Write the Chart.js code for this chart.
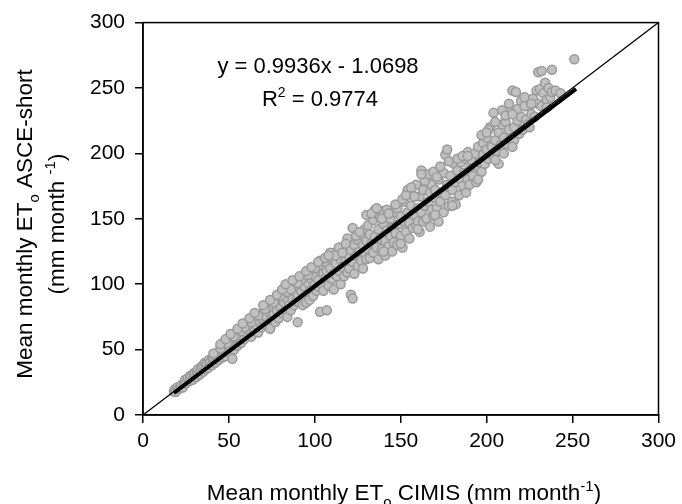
<!DOCTYPE html>
<html>
<head>
<meta charset="utf-8">
<script src="https://cdn.jsdelivr.net/npm/chart.js@4.4.1/dist/chart.umd.min.js"></script>
<style>
  html, body { margin: 0; padding: 0; background: #fff; }
  #wrap { width: 682px; height: 504px; position: relative; }
</style>
</head>
<body>
<div id="wrap"><canvas id="myChartEto"></canvas></div>
<script>
// CIMIS ET0 (x) vs ASCE-short ET0 (y), mm/month
const cimis = [
  18,18.5,19,20,21,22,23,24,24.5,25,26,27,27.5,28,29,29.5,30,31,31.5,32,33,33.5,34,35,35,
  36,36.5,37,38,38.5,39,40,40.5,41,42,42,43,44,44.5,45,46,46,47,48,48,49,50,50,51,52,52,53,53,54,55,55,56,
  57,57,58,58,59,60,60,61,62,62,63,64,64,65,66,66,67,68,68,69,70,70,71,72,72,73,74,74,75,75,76,77,77,78,79,79,80,
  81,81,82,83,83,84,84,85,86,86,87,88,88,89,90,90,90,91,92,92,93,94,94,95,95,96,96,97,97,98,98,99,99,100,100,101,101,102,102,103,103,104,104,105,105,
  106,106,107,107,108,108,109,110,110,111,111,112,113,113,114,115,115,116,117,117,118,119,119,120,120,121,121,122,122,122,123,123,124,125,125,126,127,127,128,128,129,129,130,130,130,
  131,131,132,132,133,134,134,135,135,136,137,137,138,138,139,140,140,141,141,142,142,143,144,144,145,145,146,146,147,148,148,149,150,150,151,152,152,153,154,154,155,155,156,157,157,158,159,159,160,160,
  161,161,162,162,163,163,164,165,165,166,167,167,168,168,169,170,170,171,172,172,173,174,175,175,176,176,177,177,178,179,180,180,181,182,182,183,184,185,185,186,187,188,188,189,189,190,190,
  191,192,193,194,195,195,196,197,198,198,199,200,200,201,202,203,204,204,205,206,207,207,208,209,210,210,211,212,213,214,214,215,216,216,217,218,219,220,220,221,222,223,224,225,
  226,227,228,229,230,230,231,232,232,233,234,235,236,237,238,238,240,243,251,
  41,45,49,53,57,59,63,67,71,76,80,84,88,92,96,100,86,90,
  103,109,114,118,124,126,112,116,133,136,139,143,147,151,153,156,158,
  164,166,169,171,173,178,183,186,197,201,205,209,213,218,222,226,
  140,150,160,170,180,195,205,215,225,235,
  45,48,51,55,58,62,65,70,74,78,81,83,87,91,95,98,102,106,108,162,189,200,211,215
]
const asceShort = [
  18,19.5,17.5,21,20,22.5,21,25,27,24,28,26,30,29,27,32,31,29,33,35,31,34,37,33,38,
  40,35,39,36,42,40,38,44,42,40,46,44,42,48,46,44,50,47,45,52,50,48,54,52,43,56,50,55,58,53,60,57,
  55,62,60,66,58,63,68,61,65,70,60,67,72,64,69,74,63,71,76,67,73,79,69,75,82,70,78,66,73,83,77,71,85,80,74,87,82,
  78,90,86,80,93,75,88,84,92,80,89,95,84,87,71,97,92,86,95,100,84,98,90,103,86,101,93,108,88,104,96,110,91,100,106,95,113,103,98,79,110,100,115,95,108,
  104,117,80,110,99,120,112,104,123,108,96,116,106,125,110,100,119,113,106,128,118,109,135,121,112,92,126,89,117,143,108,130,122,114,134,125,118,138,112,130,124,142,119,153,133,
  127,145,120,138,131,149,124,136,157,128,142,119,135,151,127,146,156,133,122,141,157,129,150,137,125,143,155,132,139,158,130,146,137,152,128,148,163,140,155,172,135,147,160,143,168,153,176,145,158,148,
  167,140,187,155,148,172,160,150,180,163,144,170,157,176,152,166,172,158,180,148,163,170,185,155,199,168,203,176,160,183,172,163,192,161,178,187,168,180,193,175,185,170,196,201,180,188,176,
  195,183,200,178,190,205,193,186,208,199,192,203,212,196,220,205,198,231,210,202,216,192,206,222,212,200,224,207,218,232,211,248,220,210,247,225,215,240,228,218,243,226,222,236,
  230,242,228,248,262,238,249,263,236,246,254,241,250,243,264,247,248,246,272,
  47,51,55,60,64,67,71,76,81,86,91,94,99,103,107,112,96,101,
  118,124,128,131,137,140,122,124,154,158,150,154,161,165,168,174,167,
  179,184,186,182,190,194,196,198,214,218,224,233,238,234,236,238,
  125,131,142,153,160,180,195,205,220,235,
  54,58,62,66,70,74,78,84,88,92,96,100,103,106,110,113,117,120,122,184,198,216,229,230
]
const axisTicks = [0, 50, 100, 150, 200, 250, 300]
const fitSlope = 0.9936
const fitIntercept = -1.0698
const fitR2 = 0.9774
const fitRange = [18, 252]

const xTitle = [{t: 'Mean monthly ET'}, {t: 'o', sub: true}, {t: ' CIMIS (mm month'}, {t: '-1', sup: true}, {t: ')'}]
const yTitle1 = [{t: 'Mean monthly ET'}, {t: 'o', sub: true}, {t: ' ASCE-short'}]
const yTitle2 = [{t: '(mm month '}, {t: '-1', sup: true}, {t: ')'}]

const FONT = 'Arial, "Liberation Sans", sans-serif'

const points = cimis.map((x, i) => ({x, y: asceShort[i]}))
const fitLine = fitRange.map(x => ({x, y: fitSlope * x + fitIntercept}))
const oneToOne = [{x: axisTicks[0], y: axisTicks[0]}, {x: axisTicks[axisTicks.length - 1], y: axisTicks[axisTicks.length - 1]}]

// draws text with sub/superscript pieces, centred on x
const drawRich = (ctx, parts, x, y, size) => {
    const widths = parts.map(p => {
        ctx.font = `${(p.sub || p.sup) ? Math.round(size * 0.65) : size}px ${FONT}`
        return ctx.measureText(p.t).width
    })
    let cx = x - widths.reduce((a, b) => a + b, 0) / 2
    ctx.textAlign = 'left'
    ctx.textBaseline = 'alphabetic'
    parts.forEach((p, i) => {
        const small = p.sub || p.sup
        ctx.font = `${small ? Math.round(size * 0.65) : size}px ${FONT}`
        const dy = p.sub ? size * 0.3 : p.sup ? -size * 0.42 : 0
        ctx.fillText(p.t, cx, y + dy)
        cx += widths[i]
    })
}

const extras = {
    id: 'extras',
    afterDatasetsDraw(chart) {
        const {ctx, chartArea: a} = chart
        ctx.save()
        ctx.strokeStyle = '#000'
        ctx.lineWidth = 1.5
        ctx.strokeRect(a.left, a.top, a.right - a.left, a.bottom - a.top)
        ctx.fillStyle = '#000'
        const sign = fitIntercept < 0 ? '- ' : '+ '
        drawRich(ctx, [{t: `y = ${fitSlope}x ${sign}${Math.abs(fitIntercept)}`}], 318, 73, 22)
        drawRich(ctx, [{t: 'R'}, {t: '2', sup: true}, {t: ` = ${fitR2}`}], 320, 106, 22)
        drawRich(ctx, xTitle, 404, 500, 22.5)
        ctx.translate(32, 224)
        ctx.rotate(-Math.PI / 2)
        drawRich(ctx, yTitle1, 0, 0, 22.5)
        drawRich(ctx, yTitle2, 0, 32, 22.5)
        ctx.restore()
    }
}

const data = {
    datasets: [
        {
            type: 'line',
            data: fitLine,
            borderColor: '#000',
            borderWidth: 4,
            pointRadius: 0,
            order: 0
        },
        {
            type: 'line',
            data: oneToOne,
            borderColor: '#000',
            borderWidth: 1.3,
            pointRadius: 0,
            order: 1
        },
        {
            type: 'scatter',
            data: points,
            backgroundColor: '#c0c0c0',
            borderColor: '#999999',
            borderWidth: 1.5,
            pointRadius: 4.5,
            order: 2
        }
    ]
}

const tickCommon = {
    color: '#000',
    font: {family: FONT, size: 21}
}

const options = {
    responsive: true,
    maintainAspectRatio: false,
    animation: false,
    layout: {padding: {top: 22, right: 21, left: 0, bottom: 0}},
    plugins: {legend: {display: false}, tooltip: {enabled: false}},
    scales: {
        x: {
            type: 'linear',
            min: 0, max: 300,
            afterBuildTicks: s => { s.ticks = axisTicks.map(v => ({value: v})) },
            afterFit: s => { s.height = 89 },
            grid: {display: true, drawOnChartArea: false, drawTicks: true, tickLength: 8, color: '#000', lineWidth: 1.5},
            border: {display: true, color: '#000', width: 1.5},
            ticks: {...tickCommon, padding: 6, maxRotation: 0}
        },
        y: {
            type: 'linear',
            min: 0, max: 300,
            afterBuildTicks: s => { s.ticks = axisTicks.map(v => ({value: v})) },
            afterFit: s => { s.width = 143 },
            grid: {display: true, drawOnChartArea: false, drawTicks: true, tickLength: 8, color: '#000', lineWidth: 1.5},
            border: {display: true, color: '#000', width: 1.5},
            ticks: {...tickCommon, padding: 10}
        }
    }
}

new Chart('myChartEto', {type: 'scatter', data, options, plugins: [extras]})
</script>
</body>
</html>
